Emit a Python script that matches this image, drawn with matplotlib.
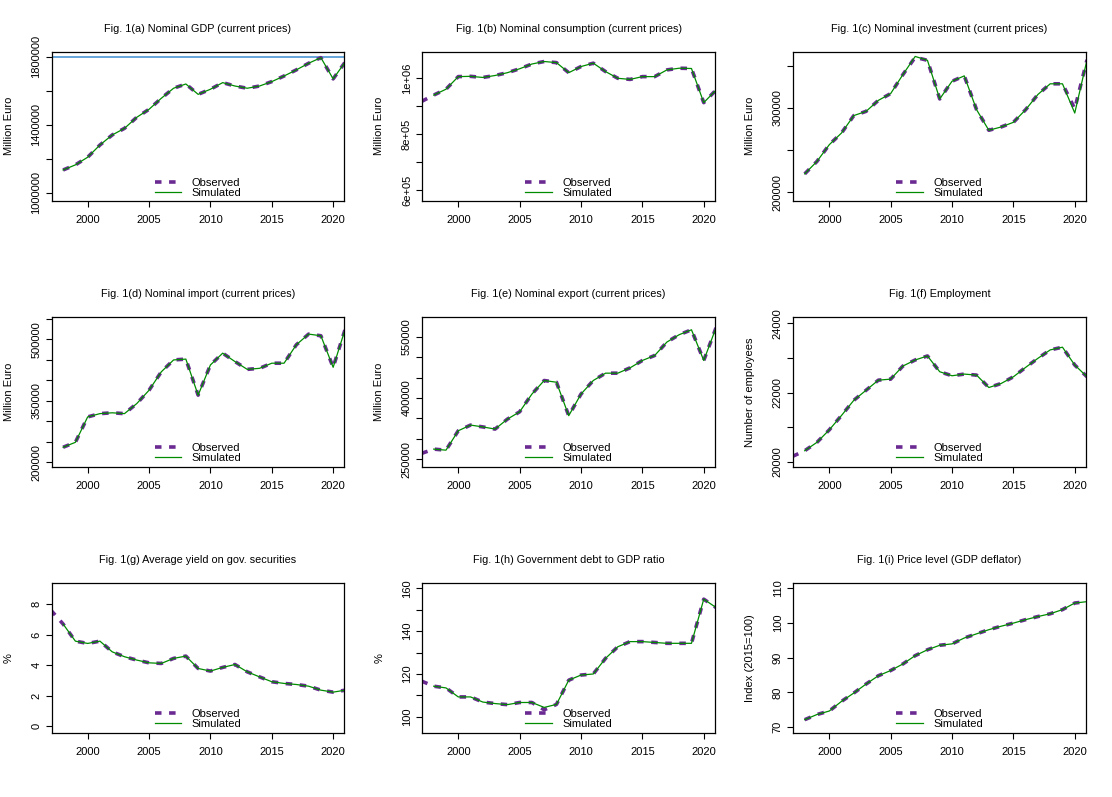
import matplotlib
matplotlib.use("Agg")
import matplotlib.pyplot as plt

plt.rcParams['font.family'] = ['Liberation Sans', 'DejaVu Sans']

# years
years_obs = list(range(1997, 2022))
years_sim = list(range(1998, 2022))

# Fig. 1(a) Nominal GDP
gdp_obs = [1133000, 1163000, 1208000, 1280000, 1339000, 1378000, 1443000, 1490000, 1555000,
           1614000, 1639000, 1578000, 1608000, 1647000, 1627000, 1614000, 1627000, 1653000,
           1686000, 1722000, 1761000, 1794000, 1669000, 1770000]
gdp_sim = [1133000, 1163000, 1208000, 1280000, 1339000, 1378000, 1443000, 1490000, 1555000,
           1614000, 1639000, 1578000, 1608000, 1647000, 1627000, 1614000, 1627000, 1653000,
           1686000, 1722000, 1761000, 1794000, 1669000, 1770000]
gdp_ref = 1798000

# Fig. 1(b) Nominal consumption
cons_obs = [917000, 940000, 961000, 1006000, 1007000, 1003000, 1010000, 1020000, 1034000, 1051000,
            1060000, 1056000, 1020000, 1042000, 1054000, 1024000, 1000000, 996000, 1006000,
            1006000, 1030000, 1036000, 1035000, 913000, 958000]
cons_sim = [940000, 961000, 1006000, 1007000, 1003000, 1010000, 1020000, 1034000, 1051000,
            1060000, 1056000, 1020000, 1042000, 1054000, 1024000, 1000000, 996000, 1006000,
            1006000, 1030000, 1036000, 1035000, 913000, 958000]

# Fig. 1(c) Nominal investment
inv_obs = [222000, 236800, 256500, 270400, 291000, 296000, 309000, 317000, 339500, 360000,
           356400, 310700, 331600, 338000, 298000, 273600, 277500, 283000, 298000, 316000,
           328600, 328600, 299000, 357000]
inv_sim = [222000, 236800, 256500, 270400, 291000, 296000, 309000, 317000, 339500, 361000,
           356400, 310700, 331600, 338000, 298000, 273600, 277500, 283000, 298000, 316000,
           328600, 328600, 294000, 357000]

# Fig. 1(d) Nominal import
imp_obs = [237000, 249000, 311000, 319000, 321000, 319000, 343500, 376000, 421000, 450000,
           452000, 364000, 437700, 466500, 446000, 427000, 429500, 442000, 442000, 487000,
           513000, 509000, 432000, 527000]
imp_sim = [237000, 249000, 311000, 319000, 321000, 319000, 343500, 376000, 421000, 450000,
           452000, 364000, 437700, 466500, 446000, 427000, 429500, 442000, 442000, 487000,
           513000, 509000, 432000, 527000]

# Fig. 1(e) Nominal export
exp_obs = [264000, 274600, 272000, 319600, 333500, 329000, 323700, 348000, 366000, 409500,
           442700, 438500, 356500, 409500, 442700, 460700, 460700, 473800, 491800, 504000,
           537000, 555000, 567000, 491800, 572000]
exp_sim = [274600, 272000, 319600, 333500, 329000, 323700, 348000, 366000, 409500,
           442700, 438500, 356500, 409500, 442700, 460700, 460700, 473800, 491800, 504000,
           537000, 555000, 567000, 491800, 572000]

# Fig. 1(f) Employment
emp_obs = [20155, 20320, 20563, 20922, 21340, 21777, 22068, 22359, 22388, 22767, 22942, 23058,
           22602, 22486, 22534, 22505, 22146, 22262, 22456, 22728, 22990, 23233, 23311, 22796,
           22456]
emp_sim = [20320, 20563, 20922, 21340, 21777, 22068, 22359, 22388, 22767, 22942, 23058,
           22602, 22486, 22534, 22505, 22146, 22262, 22456, 22728, 22990, 23233, 23311, 22796,
           22456]

# Fig. 1(g) Average yield on gov. securities
yld_obs = [7.6, 6.69, 5.57, 5.42, 5.57, 4.87, 4.55, 4.33, 4.15, 4.11, 4.44, 4.59, 3.78, 3.61,
           3.85, 4.04, 3.56, 3.23, 2.91, 2.80, 2.73, 2.62, 2.36, 2.23, 2.36]
yld_sim = [6.69, 5.57, 5.42, 5.57, 4.87, 4.55, 4.33, 4.15, 4.11, 4.44, 4.59, 3.78, 3.61,
           3.85, 4.04, 3.56, 3.23, 2.91, 2.80, 2.73, 2.62, 2.36, 2.23, 2.36]

# Fig. 1(h) Government debt to GDP ratio
debt_obs = [116.7, 114.3, 113.5, 109.3, 109.3, 106.9, 106.2, 105.7, 106.7, 106.7, 103.3, 105.8,
            117.1, 119.5, 120.0, 127.3, 132.7, 135.1, 135.1, 134.7, 134.3, 134.3, 134.3, 154.9,
            151.0]
debt_sim = [114.3, 113.5, 109.3, 109.3, 106.9, 106.2, 105.7, 106.7, 106.7, 104.4, 105.8,
            117.1, 119.5, 120.0, 127.3, 132.7, 135.1, 135.1, 134.7, 134.3, 134.3, 134.3, 154.9,
            151.0]

# Fig. 1(i) Price level (GDP deflator)
defl_obs = [72.1, 73.6, 74.6, 77.4, 79.8, 82.4, 84.8, 86.3, 88.2, 90.6, 92.3, 93.6, 94.0, 95.7,
            96.9, 98.1, 99.1, 100.0, 101.0, 101.9, 102.7, 103.9, 105.8, 106.2]
defl_sim = [72.1, 73.6, 74.6, 77.4, 79.8, 82.4, 84.8, 86.3, 88.2, 90.6, 92.3, 93.6, 94.0, 95.7,
            96.9, 98.1, 99.1, 100.0, 101.0, 101.9, 102.7, 103.9, 105.8, 106.2]

titles = ["Fig. 1(a) Nominal GDP (current prices)",
          "Fig. 1(b) Nominal consumption (current prices)",
          "Fig. 1(c) Nominal investment (current prices)",
          "Fig. 1(d) Nominal import (current prices)",
          "Fig. 1(e) Nominal export (current prices)",
          "Fig. 1(f) Employment",
          "Fig. 1(g) Average yield on gov. securities",
          "Fig. 1(h) Government debt to GDP ratio",
          "Fig. 1(i) Price level (GDP deflator)"]
ylabels = ["Million Euro"] * 5 + ["Number of employees", "%", "%", "Index (2015=100)"]

observed = [gdp_obs, cons_obs, inv_obs, imp_obs, exp_obs, emp_obs, yld_obs, debt_obs, defl_obs]
simulated = [gdp_sim, cons_sim, inv_sim, imp_sim, exp_sim, emp_sim, yld_sim, debt_sim, defl_sim]

# y-axis: limits, tick positions, which ticks get labels (R drops crowded ones)
ylims = [(951000, 1829000), (562000, 1095000), (190000, 366600),
         (190000, 554000), (232000, 597600), (19864, 24175),
         (-0.415, 9.36), (92.7, 162.3), (68.4, 111.5)]
yticks = [[1000000, 1200000, 1400000, 1600000, 1800000],
          [600000, 700000, 800000, 900000, 1000000],
          [200000, 250000, 300000, 350000],
          [200000, 250000, 300000, 350000, 400000, 450000, 500000, 550000],
          [250000, 300000, 350000, 400000, 450000, 500000, 550000],
          [20000, 21000, 22000, 23000, 24000],
          [0, 2, 4, 6, 8],
          [100, 110, 120, 130, 140, 150, 160],
          [70, 80, 90, 100, 110]]
ytlabels = [["1000000", "", "1400000", "", "1800000"],
            ["6e+05", "", "8e+05", "", "1e+06"],
            ["200000", "", "300000", ""],
            ["200000", "", "", "350000", "", "", "500000", ""],
            ["250000", "", "", "400000", "", "", "550000"],
            ["20000", "", "22000", "", "24000"],
            ["0", "2", "4", "6", "8"],
            ["100", "", "120", "", "140", "", "160"],
            ["70", "80", "90", "100", "110"]]

obs_col = "#6A2A92"
sim_col = "#008B00"

fig = plt.figure(figsize=(11.12, 7.97), dpi=100)
W, H = 1112.0, 797.0
col_left = [51.7, 422.3, 793.3]
row_top = [51.7, 317.3, 583.3]
aw, ah = 292.5, 149.2

for i in range(9):
    r, c = divmod(i, 3)
    ax = fig.add_axes([col_left[c] / W, 1 - (row_top[r] + ah) / H, aw / W, ah / H])

    obs = observed[i]
    sim = simulated[i]
    xo = years_obs[len(years_obs) - len(obs):]
    xs = years_sim[len(years_sim) - len(sim):]

    ax.plot(xo, obs, color=obs_col, lw=2.6, linestyle=(0, (1.8, 2.1)),
            dash_capstyle="butt", label="Observed", zorder=2)
    ax.plot(xs, sim, color=sim_col, lw=0.9, label="Simulated", zorder=3)
    if i == 0:
        ax.axhline(gdp_ref, color="#3C8DD0", lw=1.1, zorder=1)

    ax.set_xlim(1997.07, 2020.9)
    ax.set_ylim(*ylims[i])
    ax.set_xticks([2000, 2005, 2010, 2015, 2020])
    ax.set_yticks(yticks[i])
    ax.set_yticklabels(ytlabels[i], rotation=90, va="center")
    ax.tick_params(axis="both", direction="out", length=4.5, width=0.8,
                   labelsize=8, color="black")
    ax.tick_params(axis="x", pad=6)
    ax.tick_params(axis="y", pad=3)
    for s in ax.spines.values():
        s.set_linewidth(0.9)

    ax.set_title(titles[i], fontsize=7.8, pad=14.5)
    ax.set_ylabel(ylabels[i], fontsize=8, va="center")
    ax.yaxis.set_label_coords(-43 / aw, 0.5)

    ax.legend(loc="lower center", frameon=False, fontsize=8, handlelength=2.4,
              handletextpad=0.9, labelspacing=0.0, borderaxespad=0.2,
              borderpad=0.1)

fig.savefig("out.png", dpi=100)
